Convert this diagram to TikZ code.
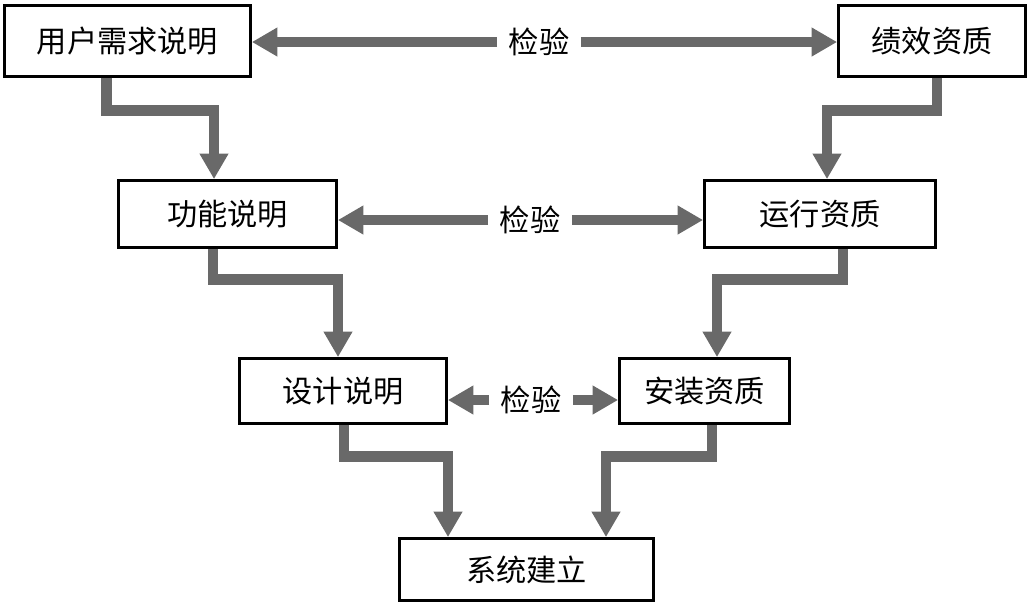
\documentclass[tikz,border=0pt]{standalone}
\usepackage{fontspec}
\newfontfamily\cjk{Noto Sans CJK SC}
\usetikzlibrary{arrows.meta,calc}
\definecolor{flowgray}{RGB}{105,105,105}
\tikzset{
  box/.style={draw,line width=1.6pt,fill=white,inner sep=0pt,font=\cjk\fontsize{17.2}{20}\selectfont},
  check/.style={inner xsep=6.5pt,inner ysep=0pt,font=\cjk\fontsize{17.2}{20}\selectfont},
  flow/.style={draw=flowgray,line width=6.2pt,-{Triangle[length=14.5pt,width=15.5pt]}}
}
\begin{document}
\begin{tikzpicture}[x=0.02cm,y=-0.02cm]
\useasboundingbox (0,0) rectangle (1028,603);
\node[box,minimum width=4.92cm,minimum height=1.42cm] (user) at (127.5,41) {用户需求说明};
\node[box,minimum width=3.74cm,minimum height=1.42cm] (perf) at (932,41) {绩效资质};
\node[box,minimum width=4.36cm,minimum height=1.34cm] (func) at (227.5,214) {功能说明};
\node[box,minimum width=4.62cm,minimum height=1.34cm] (run) at (820,214) {运行资质};
\node[box,minimum width=4.14cm,minimum height=1.30cm] (design) at (343,391) {设计说明};
\node[box,minimum width=3.40cm,minimum height=1.30cm] (install) at (704.5,391) {安装资质};
\node[box,minimum width=5.08cm,minimum height=1.24cm] (sys) at (526.5,569.5) {系统建立};
\node[check] (chkA) at (539,42) {检验};
\node[check] (chkB) at (530,220) {检验};
\node[check] (chkC) at (531,400) {检验};
\draw[flow] (chkA.west) -- (chkA.west -| user.east);
\draw[flow] (chkA.east) -- (chkA.east -| perf.west);
\draw[flow] (chkB.west) -- (chkB.west -| func.east);
\draw[flow] (chkB.east) -- (chkB.east -| run.west);
\draw[flow] (chkC.west) -- (chkC.west -| design.east);
\draw[flow] (chkC.east) -- (chkC.east -| install.west);
\draw[flow] ($(user.south)+(-21,0)$) -- ++(0,33) -| ($(func.north)+(-13.5,0)$);
\draw[flow] ($(perf.south)+(5,0)$) -- ++(0,33) -| ($(run.north)+(7,0)$);
\draw[flow] ($(func.south)+(-14.5,0)$) -- ++(0,31) -| ($(design.north)+(-5,0)$);
\draw[flow] ($(run.south)+(23,0)$) -- ++(0,31) -| ($(install.north)+(12.5,0)$);
\draw[flow] ($(design.south)+(1,0)$) -- ++(0,32) -| ($(sys.north)+(-78.5,0)$);
\draw[flow] ($(install.south)+(7.5,0)$) -- ++(0,32) -| ($(sys.north)+(79.5,0)$);
\end{tikzpicture}
\end{document}
